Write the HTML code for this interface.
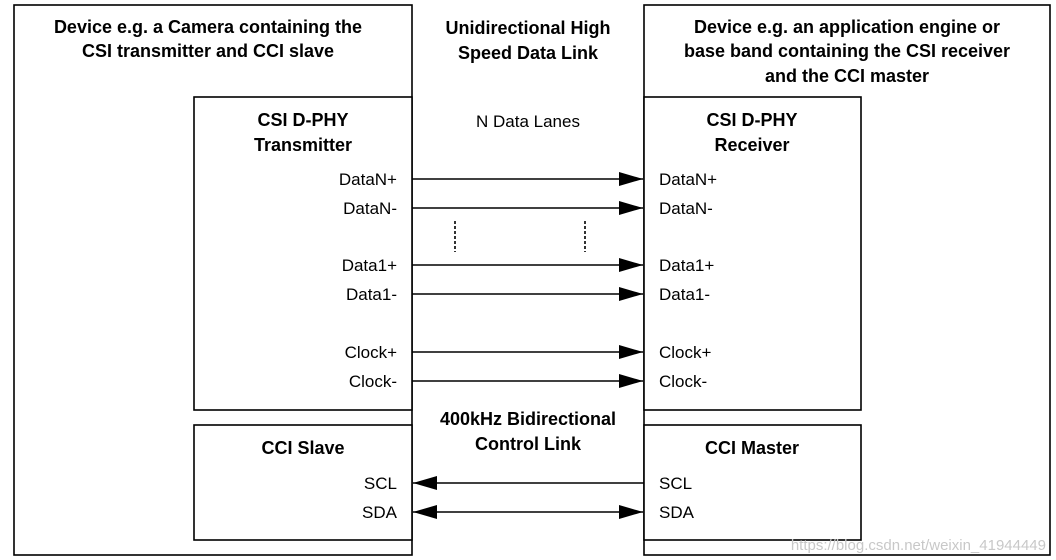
<!DOCTYPE html>
<html><head><meta charset="utf-8"><style>html,body{margin:0;padding:0;background:#fff}svg{display:block}</style></head><body>
<svg width="1056" height="560" viewBox="0 0 1056 560" xmlns="http://www.w3.org/2000/svg" font-family="Liberation Sans, Arial, sans-serif">
<defs>
<marker id="a" viewBox="0 0 24 14" refX="24" refY="7" markerWidth="24" markerHeight="14" markerUnits="userSpaceOnUse" orient="auto-start-reverse"><path d="M0,0 L24,7 L0,14 Z" fill="#000"/></marker>
</defs>
<g fill="none" stroke="#000" stroke-width="1.6">
<rect x="14" y="5" width="398" height="550"/>
<rect x="644" y="5" width="406" height="550"/>
<rect x="194" y="97" width="218" height="313" fill="#fff"/>
<rect x="194" y="425" width="218" height="115" fill="#fff"/>
<rect x="644" y="97" width="217" height="313" fill="#fff"/>
<rect x="644" y="425" width="217" height="115" fill="#fff"/>
<line x1="412" y1="179" x2="643" y2="179" marker-end="url(#a)"/>
<line x1="412" y1="208" x2="643" y2="208" marker-end="url(#a)"/>
<line x1="412" y1="265" x2="643" y2="265" marker-end="url(#a)"/>
<line x1="412" y1="294" x2="643" y2="294" marker-end="url(#a)"/>
<line x1="412" y1="352" x2="643" y2="352" marker-end="url(#a)"/>
<line x1="412" y1="381" x2="643" y2="381" marker-end="url(#a)"/>
<line x1="413" y1="483" x2="644" y2="483" marker-start="url(#a)"/>
<line x1="413" y1="512" x2="643" y2="512" marker-start="url(#a)" marker-end="url(#a)"/>
<line x1="455" y1="221" x2="455" y2="252" stroke-dasharray="3,2"/>
<line x1="585" y1="221" x2="585" y2="252" stroke-dasharray="3,2"/>
</g>
<g font-weight="bold" font-size="18" text-anchor="middle" fill="#000">
<text x="208" y="33">Device e.g. a Camera containing the</text>
<text x="208" y="57">CSI transmitter and CCI slave</text>
<text x="528" y="34">Unidirectional High</text>
<text x="528" y="59">Speed Data  Link</text>
<text x="847" y="33">Device e.g. an application engine or</text>
<text x="847" y="57">base band containing the CSI receiver</text>
<text x="847" y="82">and the CCI master</text>
<text x="303" y="126">CSI D-PHY</text>
<text x="303" y="151">Transmitter</text>
<text x="752" y="126">CSI D-PHY</text>
<text x="752" y="151">Receiver</text>
<text x="528" y="425">400kHz Bidirectional</text>
<text x="528" y="450">Control Link</text>
<text x="303" y="454">CCI Slave</text>
<text x="752" y="454">CCI Master</text>
</g>
<g font-size="17" fill="#000">
<text x="528" y="127" text-anchor="middle">N Data Lanes</text>
<g text-anchor="end">
<text x="397" y="185">DataN+</text>
<text x="397" y="214">DataN-</text>
<text x="397" y="271">Data1+</text>
<text x="397" y="300">Data1-</text>
<text x="397" y="358">Clock+</text>
<text x="397" y="387">Clock-</text>
<text x="397" y="489">SCL</text>
<text x="397" y="518">SDA</text>
</g>
<text x="659" y="185">DataN+</text>
<text x="659" y="214">DataN-</text>
<text x="659" y="271">Data1+</text>
<text x="659" y="300">Data1-</text>
<text x="659" y="358">Clock+</text>
<text x="659" y="387">Clock-</text>
<text x="659" y="489">SCL</text>
<text x="659" y="518">SDA</text>
</g>
<text x="1046" y="550" text-anchor="end" font-size="15" fill="#c8c8c8">https://blog.csdn.net/weixin_41944449</text>
</svg>
</body></html>
